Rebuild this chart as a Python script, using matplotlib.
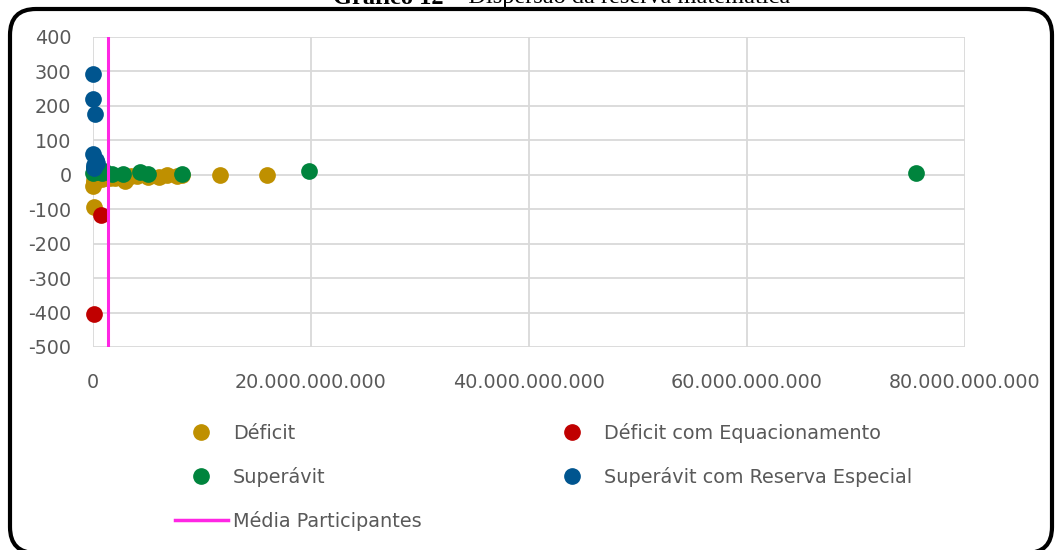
"""
Gráfico 12 - Dispersão da reserva matemática
"""
import matplotlib.pyplot as plt
from matplotlib.lines import Line2D
from matplotlib.patches import FancyBboxPatch
from matplotlib.ticker import FuncFormatter

# ==================== dados ====================
deficit_x = [0.02e9, 0.05e9, 0.1e9, 0.2e9, 0.3e9, 0.5e9, 0.8e9, 1.0e9, 1.3e9, 1.6e9,
             2.0e9, 2.9e9, 3.5e9, 4.0e9, 5.0e9, 6.1e9, 6.8e9, 7.7e9, 8.2e9,
             11.65e9, 16.0e9, 0.05e9, 0.1e9, 0.3e9]
deficit_y = [-33, -25, -15, -10, -8, -5, -12, -8, -6, -10,
             -10, -18, -5, -3, -6, -6, -2, -3, -2,
             0, -1, -94, 5, 2]

equac_x = [0.05e9, 0.7e9]
equac_y = [-405, -118]

superavit_x = [0.02e9, 0.05e9, 0.1e9, 0.2e9, 0.3e9, 0.5e9, 0.8e9, 1.0e9, 1.7e9,
               2.75e9, 4.3e9, 5.0e9, 8.2e9, 19.8e9, 75.5e9]
superavit_y = [5, 15, 20, 10, 8, 12, 5, 10, 3, 2, 8, 3, 3, 10, 5]

reserva_x = [0.02e9, 0.02e9, 0.2e9, 0.02e9, 0.3e9, 0.05e9, 0.1e9, 0.4e9]
reserva_y = [293, 220, 176, 60, 43, 28, 20, 35]

media_participantes = 1.38e9

y_ticks = [400, 300, 200, 100, 0, -100, -200, -300, -400, -500]
x_ticks = [0, 20e9, 40e9, 60e9, 80e9]
# ================================================================

COR_DEFICIT = '#BF9000'
COR_EQUAC = '#C00000'
COR_SUPER = '#00843D'
COR_RESERVA = '#00558F'
COR_MEDIA = '#FF26E4'
COR_TEXTO = '#595959'
COR_GRADE = '#D9D9D9'

plt.rcParams['font.family'] = ['DejaVu Sans']
plt.rcParams['axes.unicode_minus'] = False

fig = plt.figure(figsize=(10.56, 5.5), dpi=100)
ax = fig.add_axes([93 / 1056, 1 - 347 / 550, (965 - 93) / 1056, (347 - 37) / 550])

ms = 145
ax.scatter(deficit_x, deficit_y, s=ms, color=COR_DEFICIT, zorder=3, linewidths=0, clip_on=False)
ax.scatter(equac_x, equac_y, s=ms, color=COR_EQUAC, zorder=3, linewidths=0, clip_on=False)
ax.scatter(superavit_x, superavit_y, s=ms, color=COR_SUPER, zorder=4, linewidths=0, clip_on=False)
ax.scatter(reserva_x, reserva_y, s=ms, color=COR_RESERVA, zorder=5, linewidths=0, clip_on=False)
ax.axvline(media_participantes, color=COR_MEDIA, linewidth=2.2, zorder=6)

ax.set_xlim(0, 80e9)
ax.set_ylim(-500, 400)
ax.set_xticks(x_ticks)
ax.set_yticks(y_ticks)
ax.xaxis.set_major_formatter(FuncFormatter(lambda v, p: f"{v:,.0f}".replace(',', '.')))
ax.grid(True, color=COR_GRADE, linewidth=1.3, zorder=0)
for s in ax.spines.values():
    s.set_visible(False)
ax.tick_params(length=0, labelsize=13.8, colors=COR_TEXTO)
ax.tick_params(axis='y', pad=15.5)
ax.tick_params(axis='x', pad=19)

handles = [
    Line2D([], [], marker='o', linestyle='none', color=COR_DEFICIT, markersize=11),
    Line2D([], [], marker='o', linestyle='none', color=COR_SUPER, markersize=11),
    Line2D([], [], color=COR_MEDIA, linewidth=2.5),
    Line2D([], [], marker='o', linestyle='none', color=COR_EQUAC, markersize=11),
    Line2D([], [], marker='o', linestyle='none', color=COR_RESERVA, markersize=11),
]
labels = ['Déficit', 'Superávit', 'Média Participantes',
          'Déficit com Equacionamento', 'Superávit com Reserva Especial']
leg = fig.legend(handles, labels, ncol=2, loc='upper left',
                 bbox_to_anchor=(165 / 1056, 1 - 413 / 550), frameon=False,
                 fontsize=13.9, borderpad=0, handlelength=2.75, handletextpad=0.27,
                 labelspacing=1.25, columnspacing=6.4)
for t in leg.get_texts():
    t.set_color(COR_TEXTO)

# moldura arredondada (cortada embaixo)
frame = FancyBboxPatch((10, -3), 1042, 544, boxstyle="round,pad=0,rounding_size=26",
                       transform=None, facecolor='none', edgecolor='black',
                       linewidth=3, zorder=10)
fig.patches.append(frame)

# título cortado no topo
fig.text(333 / 1056, 1 - 3.5 / 550, 'Gráfico 12', ha='left', va='baseline',
         fontsize=17.6, fontweight='bold', family='Liberation Serif')
fig.text(790 / 1056, 1 - 3.5 / 550, '– Dispersão da reserva matemática', ha='right',
         va='baseline', fontsize=17.6, family='Liberation Serif')

fig.savefig('out.png', dpi=100)
